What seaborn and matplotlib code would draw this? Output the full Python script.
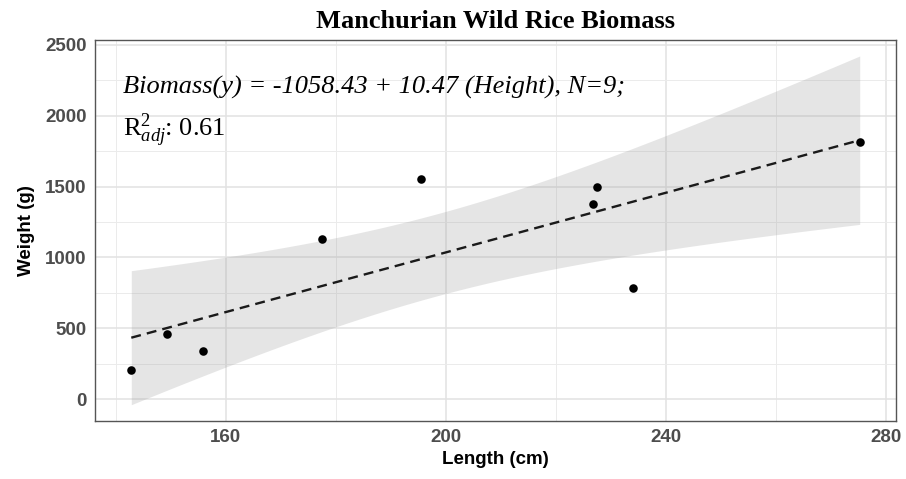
import numpy as np
import matplotlib
matplotlib.use("Agg")
import matplotlib.pyplot as plt
import seaborn as sns

# ---- data ----
length_cm = [142.8, 149.3, 155.8, 177.5, 195.5, 226.8, 227.6, 234.1, 275.3]
weight_g = [204, 458, 336, 1130, 1557, 1378, 1494, 786, 1812]
x_major = [160, 200, 240, 280]
x_minor = [140, 180, 220, 260]
y_major = [0, 500, 1000, 1500, 2000, 2500]
y_minor = [250, 750, 1250, 1750, 2250]
title = "Manchurian Wild Rice Biomass"
eq_text = "Biomass(y) = -1058.43 + 10.47 (Height), N=9;"
r2_text = r"$\mathrm{R}^{2}_{adj}$: 0.61"

sns.set_style("white")
plt.rcParams["font.family"] = ["Liberation Sans", "DejaVu Sans"]
plt.rcParams["text.color"] = "black"
plt.rcParams["axes.labelcolor"] = "black"
plt.rcParams["mathtext.fontset"] = "custom"
plt.rcParams["mathtext.rm"] = "Liberation Serif"
plt.rcParams["mathtext.it"] = "Liberation Serif:italic"

fig = plt.figure(figsize=(9.06, 4.79), dpi=100)
ax = fig.add_axes([95 / 906, 1 - 421 / 479, (896 - 95) / 906, (421 - 40) / 479])

x = np.asarray(length_cm, float)
y = np.asarray(weight_g, float)

# analytic 95% confidence band (lm)
b1, b0 = np.polyfit(x, y, 1)
n = len(x)
resid = y - (b0 + b1 * x)
s = np.sqrt(np.sum(resid ** 2) / (n - 2))
sxx = np.sum((x - x.mean()) ** 2)
grid = np.linspace(x.min(), x.max(), 200)
fit = b0 + b1 * grid
tcrit = 2.3646  # t(0.975, df=7)
se = s * np.sqrt(1 / n + (grid - x.mean()) ** 2 / sxx)
ax.fill_between(grid, fit - tcrit * se, fit + tcrit * se,
                color="#999999", alpha=0.25, linewidth=0, zorder=2)

sns.regplot(x=x, y=y, ci=None, ax=ax, truncate=True,
            scatter_kws=dict(s=38, color="black", linewidths=0, alpha=1, zorder=4),
            line_kws=dict(color="#1a1a1a", lw=1.7, linestyle=(0, (4.2, 2.6)), zorder=3))

ax.set_xlim(136.2, 281.9)
ax.set_ylim(-155, 2535)
ax.set_xticks(x_major)
ax.set_xticks(x_minor, minor=True)
ax.set_yticks(y_major)
ax.set_yticks(y_minor, minor=True)
ax.grid(which="major", color="#e2e2e2", lw=1.1, zorder=0)
ax.grid(which="minor", color="#ebebeb", lw=0.7, zorder=0)
ax.set_axisbelow(True)
ax.tick_params(which="major", length=4, width=1, color="#444444",
               labelsize=13.5, labelcolor="#4d4d4d", pad=2)
ax.tick_params(which="minor", length=0)
for lab in ax.get_xticklabels() + ax.get_yticklabels():
    lab.set_fontweight("bold")
for sp in ax.spines.values():
    sp.set_visible(True)
    sp.set_color("#555555")
    sp.set_linewidth(1.0)

ax.set_xlabel("Length (cm)", fontsize=13.5, fontweight="bold", labelpad=3)
ax.set_ylabel("Weight (g)", fontsize=13.5, fontweight="bold", labelpad=7)
ax.set_title(title, fontsize=19, fontweight="bold", family="Liberation Serif", pad=9)

ax.text(141.3, 2160, eq_text, fontsize=19, style="italic", family="Liberation Serif",
        va="baseline", ha="left", zorder=5)
ax.text(141.3, 1860, r2_text, fontsize=19, family="Liberation Serif",
        va="baseline", ha="left", zorder=5)

fig.savefig("out.png", dpi=100)
